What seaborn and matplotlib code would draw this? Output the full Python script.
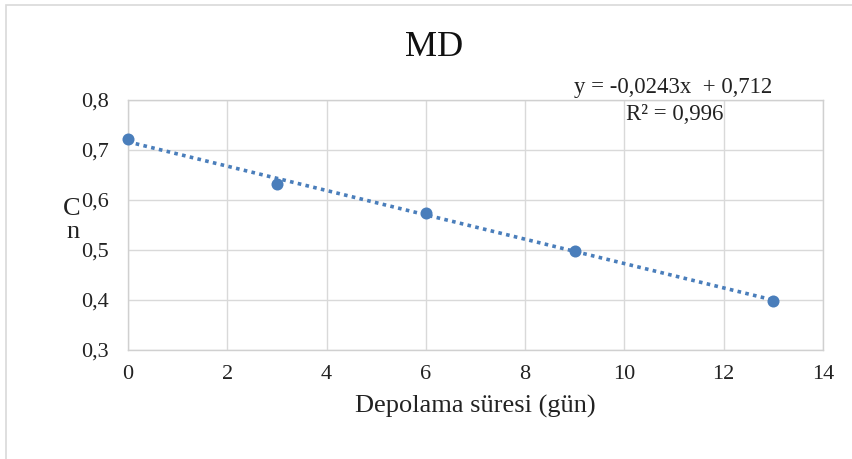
import matplotlib
matplotlib.use("Agg")
import matplotlib.pyplot as plt
import seaborn as sns
import pandas as pd
from matplotlib.patches import Rectangle

# storage days vs Cn for MD
days = [0, 3, 6, 9, 13]
cn = [0.722, 0.632, 0.575, 0.499, 0.399]
eq_text = "y = -0,0243x  + 0,712"
r2_text = "R² = 0,996"

df = pd.DataFrame({"days": days, "cn": cn})

sns.set_style("white")
plt.rcParams["font.family"] = ["Liberation Serif", "DejaVu Serif"]

fig = plt.figure(figsize=(8.52, 4.59), dpi=100)
ax = fig.add_axes([128 / 852, 1 - 350 / 459, 695 / 852, 250 / 459])

blue = "#4a7ebb"
sns.regplot(x="days", y="cn", data=df, ax=ax, ci=None, truncate=True,
            scatter_kws={"s": 75, "color": blue, "zorder": 3, "linewidths": 0,
                         "alpha": 1, "clip_on": False},
            line_kws={"color": blue, "linestyle": (0, (1, 1.2)), "linewidth": 2.6})

ax.set_xlim(0, 14)
ax.set_ylim(0.3, 0.8)
ax.set_xticks(range(0, 15, 2))
ax.set_yticks([0.3, 0.4, 0.5, 0.6, 0.7, 0.8])
ax.set_yticklabels(["0,3", "0,4", "0,5", "0,6", "0,7", "0,8"])
ax.grid(True, color="#d9d9d9", linewidth=1)
ax.set_axisbelow(True)
for s in ax.spines.values():
    s.set_color("#d0d0d0")
    s.set_linewidth(1)
ax.tick_params(axis="both", length=0, labelsize=16, colors="#222222")
ax.tick_params(axis="x", pad=11)
ax.tick_params(axis="y", pad=14)

ax.set_xlabel("Depolama süresi (gün)", fontsize=19, labelpad=8, color="#222222")
ax.set_ylabel("")
fig.text(72 / 852, 1 - 209 / 459, "C", fontsize=19, ha="center", va="center", color="#222222")
fig.text(73 / 852, 1 - 232 / 459, "n", fontsize=19, ha="center", va="center", color="#222222")

fig.text(434 / 852, 1 - 48 / 459, "MD", fontsize=26, ha="center", va="center", color="#111111")
fig.text(673 / 852, 1 - 88 / 459, eq_text, fontsize=16.4, ha="center", va="center", color="#222222")
fig.text(675 / 852, 1 - 114 / 459, r2_text, fontsize=16.4, ha="center", va="center", color="#222222")

fig.patches.append(Rectangle((6 / 852, -0.1), 1.2, 1.09, transform=fig.transFigure,
                             fill=False, edgecolor="#d9d9d9", linewidth=1.2))

fig.savefig("out.png", dpi=100)
